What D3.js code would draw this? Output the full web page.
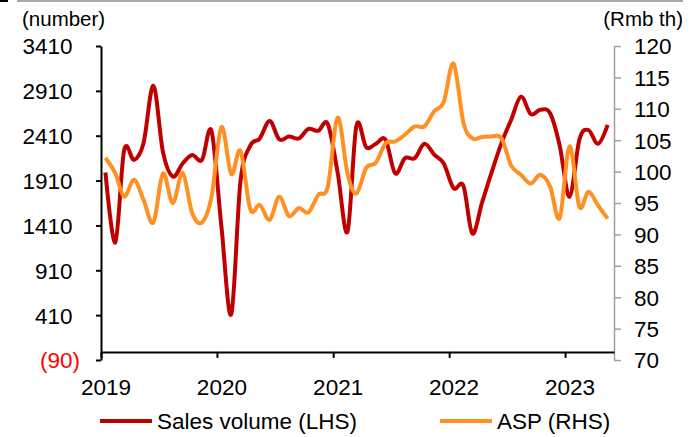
<!DOCTYPE html>
<html>
<head>
<meta charset="utf-8">
<script src="https://cdn.jsdelivr.net/npm/d3@7"></script>
<style>
  body { margin: 0; background: #fff; }
  svg { display: block; font-family: 'Liberation Sans', Arial, sans-serif; }
</style>
</head>
<body>
<div id="chart-area"></div>
<script>
// monthly, Jan 2019 - May 2023
var months = d3.timeMonth.range(new Date(2019, 0, 1), new Date(2023, 5, 1))

var salesVolume = [2000, 1220, 2250, 2140, 2330, 2965, 2230, 1955, 2100, 2195, 2140, 2460,
  1400, 420, 1900, 2300, 2380, 2575, 2370, 2400, 2380, 2485, 2465, 2540,
  2000, 1340, 2520, 2280, 2320, 2365, 1990, 2160, 2160, 2320, 2200, 2100,
  1825, 1850, 1320, 1670, 2005, 2330, 2585, 2845, 2650, 2700, 2660, 2300,
  1730, 2365, 2475, 2320, 2530]

var asp = [102.2, 99.7, 96.0, 98.7, 95.5, 91.9, 99.7, 95.0, 99.8, 93.4, 91.9, 96.0,
  107.1, 99.6, 103.3, 94.0, 94.7, 92.3, 96.0, 92.9, 94.2, 93.5, 96.3, 97.6,
  108.6, 99.7, 96.5, 100.6, 101.4, 104.5, 104.8, 105.9, 107.2, 107.2, 109.6, 111.1,
  117.2, 107.8, 105.3, 105.5, 105.6, 105.3, 101.0, 99.5, 98.1, 99.5, 97.6, 92.6,
  104.0, 94.4, 96.8, 94.6, 92.5]

var leftTicks = [-90, 410, 910, 1410, 1910, 2410, 2910, 3410]
var rightTicks = [70, 75, 80, 85, 90, 95, 100, 105, 110, 115, 120]
var years = [2019, 2020, 2021, 2022, 2023]

var series = [
  { name: 'Sales volume (LHS)', values: salesVolume, axis: 'left', color: '#c00000' },
  { name: 'ASP (RHS)', values: asp, axis: 'right', color: '#ff9021' }
]

var W = 698, H = 437
var plot = { left: 101, right: 614, top: 46, bottom: 360 }
var fs = 22.5
var unitFs = 20.5

var svg = d3.select('#chart-area').append('svg')
  .attr('width', W).attr('height', H)

// top rule
svg.append('rect').attr('x', 0).attr('y', 0).attr('width', 8).attr('height', 2).attr('fill', '#000')
svg.append('line').attr('x1', 17).attr('x2', 683).attr('y1', 1).attr('y2', 1)
  .attr('stroke', '#8c8c8c').attr('stroke-width', 1.5)

var x = d3.scaleTime().domain([new Date(2019, 0, 1), new Date(2023, 5, 4)]).range([plot.left, plot.right])
var yL = d3.scaleLinear().domain([-90, 3410]).range([plot.bottom, plot.top])
var yR = d3.scaleLinear().domain([70, 120]).range([plot.bottom, plot.top])

var mid = d => d3.timeDay.offset(d, 14)

// left axis
var leftAxis = svg.append('g').attr('transform', `translate(${plot.left},0)`)
  .call(d3.axisLeft(yL).tickValues(leftTicks).tickSize(5).tickSizeOuter(0).tickFormat(''))
leftAxis.select('.domain').attr('stroke', '#000').attr('stroke-width', 2)
leftAxis.selectAll('.tick line').attr('stroke', '#000').attr('stroke-width', 2)
leftAxis.selectAll('.tick').each(function(d) {
  var t = d3.select(this).append('text')
    .attr('x', -21).attr('dy', '0.35em').attr('text-anchor', 'end')
    .attr('font-size', fs).attr('fill', d < 0 ? '#ff0000' : '#000')
  if (d < 0) {
    t.text('(' + Math.abs(d) + ')')
  } else {
    t.text(d)
    t.append('tspan').attr('fill-opacity', 0).text(')')
  }
})

// right axis
var rightAxis = svg.append('g').attr('transform', `translate(${plot.right},0)`)
  .call(d3.axisRight(yR).tickValues(rightTicks).tickSize(7).tickSizeOuter(0).tickFormat(''))
rightAxis.select('.domain').attr('stroke', '#a0a0a0').attr('stroke-width', 1.5)
rightAxis.selectAll('.tick line').attr('stroke', '#a0a0a0').attr('stroke-width', 1.5)
rightAxis.selectAll('.tick').append('text')
  .attr('x', 20).attr('dy', '0.35em').attr('text-anchor', 'start')
  .attr('font-size', fs).attr('fill', '#000')
  .text(d => d)

// x axis at zero
var labelShift = x(mid(new Date(2019, 0, 1))) - x(new Date(2019, 0, 1))
var xAxis = svg.append('g').attr('transform', `translate(0,${yL(0)})`)
  .call(d3.axisBottom(x).tickValues(years.map(d => new Date(d, 0, 1))).tickSize(6).tickSizeOuter(0)
    .tickFormat(d3.timeFormat('%Y')))
xAxis.select('.domain').attr('stroke', '#000').attr('stroke-width', 2)
xAxis.selectAll('.tick line').attr('stroke', '#000').attr('stroke-width', 2)
xAxis.selectAll('.tick text')
  .attr('x', labelShift).attr('y', 35.5).attr('dy', '0.35em')
  .attr('font-size', fs).attr('fill', '#000').attr('font-family', null)

// unit labels
svg.append('text').attr('x', 22).attr('y', 26).attr('font-size', unitFs).text('(number)')
svg.append('text').attr('x', 683).attr('y', 26).attr('text-anchor', 'end').attr('font-size', unitFs).text('(Rmb th)')

// lines
svg.append('clipPath').attr('id', 'plot-clip').append('rect')
  .attr('x', plot.left).attr('y', 0).attr('width', plot.right - plot.left).attr('height', plot.bottom)

series.forEach(s => {
  var y = s.axis === 'left' ? yL : yR
  var line = d3.line()
    .x((d, i) => x(mid(months[i])))
    .y(d => y(d))
    .curve(d3.curveCardinal.tension(0))
  svg.append('path')
    .datum(s.values)
    .attr('clip-path', 'url(#plot-clip)')
    .attr('fill', 'none')
    .attr('stroke', s.color)
    .attr('stroke-width', 4)
    .attr('stroke-linejoin', 'round')
    .attr('d', line)
})

// legend
var legendX = [100, 440]
series.forEach((s, i) => {
  var lg = svg.append('g').attr('transform', `translate(${legendX[i]},421)`)
  lg.append('line').attr('x1', 0).attr('x2', 52).attr('y1', 0).attr('y2', 0)
    .attr('stroke', s.color).attr('stroke-width', 4)
  lg.append('text').attr('x', 57).attr('y', 0).attr('dy', '0.35em')
    .attr('font-size', fs).text(s.name)
})
</script>
</body>
</html>
